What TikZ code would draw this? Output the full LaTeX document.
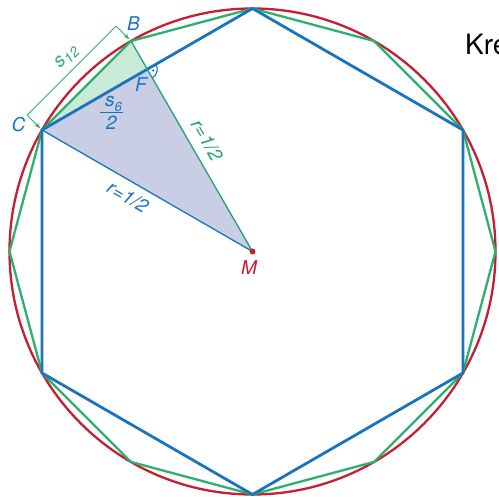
\documentclass[tikz,border=0pt]{standalone}
\usepackage{fontspec}
\setmainfont{TeX Gyre Heros}
\usetikzlibrary{calc,arrows.meta}
\definecolor{cred}{RGB}{200,30,50}
\definecolor{cblue}{RGB}{25,115,190}
\definecolor{cgreen}{RGB}{45,175,110}
\definecolor{cteal}{RGB}{35,160,120}
\definecolor{fblue}{RGB}{202,206,228}
\definecolor{fgreen}{RGB}{200,235,215}
\begin{document}
\begin{tikzpicture}[x=1pt,y=1pt,
  lab/.style={font=\fontsize{19}{22}\selectfont\itshape, inner sep=0pt},
  hexline/.style={cblue, line width=2.8pt, line join=miter},
  dodline/.style={cgreen, line width=2.3pt, line join=miter},
  circline/.style={cred, line width=2.3pt},
  thinblue/.style={cblue, line width=1.3pt},
  thingreen/.style={cteal, line width=1.3pt},
  dimline/.style={cgreen, line width=0.9pt},
  dimarrow/.style={dimline, -{Stealth[length=6pt,width=4.5pt]}, shorten >=2.5pt}]
\useasboundingbox (0,0) rectangle (499,497);
\coordinate (M) at (252.5,245.5);
\foreach \a in {0,30,...,330} {\coordinate (D\a) at ($(M)+(\a:243)$);}
\coordinate (F) at ($(D150)!0.5!(D90)$);
\coordinate (CBm) at ($(D150)!0.5!(D120)$);
\coordinate (Cd) at ($(D150)+(135:21)$);
\coordinate (Bd) at ($(D120)+(135:21)$);
% fills
\fill[fblue] (D150) -- (F) -- (M) -- cycle;
\fill[fgreen] (D150) -- (D120) -- (F) -- cycle;
% circle
\draw[circline] (M) circle[radius=243pt];
% dodecagon
\draw[dodline] (D0) -- (D30) -- (D60) -- (D90) -- (D120) -- (D150) -- (D180) -- (D210) -- (D240) -- (D270) -- (D300) -- (D330) -- cycle;
% hexagon
\draw[hexline] (D30) -- (D90) -- (D150) -- (D210) -- (D270) -- (D330) -- cycle;
% radii
\draw[thingreen] (D120) -- (M);
\draw[thinblue] (D150) -- (M);
% right angle
\draw[cblue, line width=1.1pt] ($(F)+(30:10)$) arc[start angle=30, end angle=-60, radius=10pt];
\fill[cblue] ($(F)+(-12:6)$) circle[radius=1.3pt];
% M dot
\fill[cred] (M) circle[radius=3pt];
% dimension
\draw[dimline] (Cd) -- (Bd);
\draw[dimarrow] (Cd) -- (D150);
\draw[dimarrow] (Bd) -- (D120);
% labels
\node[lab,text=cblue] (lB) at (133.5,473) {B};
\node[lab,text=cblue] (lC) at (18.5,372) {C};
\node[lab,text=cblue] (lF) at (141,412) {F};
\node[lab,text=cred] (lM) at (249,229) {M};
\node[lab,text=cgreen,rotate=45] (ls12) at ($(CBm)+(135:34)+(45:6)$) {s\raisebox{-0.4ex}{\fontsize{14}{16}\selectfont 12}};
% fraction s6/2
\node[lab,text=cblue,anchor=base] (lnum) at (113.5,390) {s\raisebox{-5pt}{\fontsize{13}{15}\selectfont 6}};
\coordinate (barL) at (100,384.7);
\coordinate (barR) at (123,384.7);
\draw[cblue, line width=1.5pt] (barL) -- (barR);
\node[lab,text=cblue,anchor=base] (lden) at (111.5,367) {2};
\node[lab,text=cteal,rotate=-60] (lrg) at (207,357) {r=1/2};
\node[lab,text=cblue,rotate=-30] (lrb) at (128,300) {r=1/2};
\node[font=\fontsize{28}{32}\selectfont, anchor=base west, inner sep=0pt] (title) at (465,442) {Kre};
\end{tikzpicture}
\end{document}
